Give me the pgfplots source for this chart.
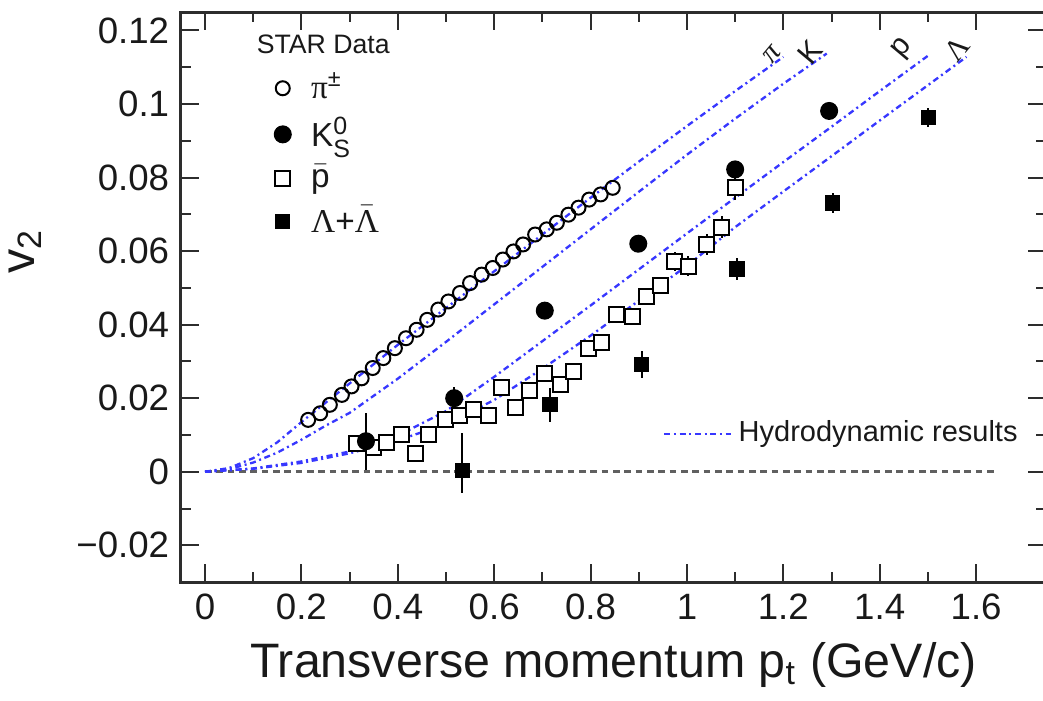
\documentclass[border=0pt]{standalone}
\usepackage{fontspec}
\setmainfont{Liberation Sans}
\newfontfamily\grk{Liberation Serif}
\usepackage{pgfplots}
\pgfplotsset{compat=1.18}
\definecolor{hydro}{RGB}{55,55,255}
\definecolor{framec}{RGB}{45,45,45}
\definecolor{txt}{RGB}{25,25,25}

\pgfplotstableread{
pt v2
0.214 0.0141
0.239 0.0159
0.259 0.0182
0.284 0.0209
0.304 0.0232
0.325 0.0254
0.348 0.0282
0.370 0.0309
0.394 0.0336
0.417 0.0363
0.439 0.0386
0.461 0.0413
0.484 0.0441
0.505 0.0463
0.529 0.0486
0.550 0.0513
0.574 0.0536
0.597 0.0554
0.618 0.0577
0.640 0.0599
0.660 0.0618
0.685 0.0645
0.709 0.0659
0.730 0.0677
0.754 0.0699
0.775 0.0718
0.797 0.0740
0.821 0.0754
0.846 0.0772
}\pions

\pgfplotstableread{
pt v2 err
0.315 0.0077 0.0012
0.349 0.0065 0.0012
0.377 0.0079 0.0012
0.407 0.0100 0.0012
0.436 0.0050 0.0012
0.463 0.0100 0.0012
0.498 0.0143 0.0014
0.528 0.0154 0.0014
0.557 0.0168 0.0014
0.588 0.0152 0.0014
0.615 0.0230 0.0015
0.645 0.0175 0.0015
0.674 0.0221 0.0015
0.705 0.0268 0.0015
0.737 0.0236 0.0016
0.764 0.0272 0.0016
0.795 0.0336 0.0018
0.823 0.0351 0.0018
0.854 0.0427 0.0020
0.887 0.0422 0.0020
0.916 0.0477 0.0022
0.945 0.0506 0.0024
0.975 0.0572 0.0026
1.003 0.0559 0.0028
1.041 0.0618 0.0028
1.072 0.0665 0.0030
1.100 0.0772 0.0032
}\pbar

\pgfplotstableread{
pt v2 err
0.334 0.0083 0.0077
0.517 0.0200 0.0030
0.705 0.0438 0.0010
0.899 0.0620 0.0010
1.100 0.0822 0.0015
1.295 0.0981 0.0015
}\kaons

\pgfplotstableread{
pt v2
0.000 0.0000
0.050 0.0010
0.100 0.0037
0.150 0.0080
0.200 0.0135
0.300 0.0240
0.400 0.0345
0.500 0.0445
0.600 0.0545
0.700 0.0645
0.800 0.0745
0.900 0.0843
1.000 0.0940
1.100 0.1035
1.200 0.1128
}\hpi

\pgfplotstableread{
pt v2
0.000 0.0000
0.050 0.0007
0.100 0.0025
0.150 0.0052
0.200 0.0087
0.250 0.0125
0.300 0.0160
0.400 0.0253
0.500 0.0353
0.600 0.0455
0.700 0.0557
0.800 0.0659
0.900 0.0761
1.000 0.0862
1.100 0.0960
1.200 0.1055
1.290 0.1137
}\hk

\pgfplotstableread{
pt v2
0.000 0.0000
0.100 0.0009
0.200 0.0028
0.300 0.0055
0.400 0.0098
0.500 0.0165
0.600 0.0258
0.700 0.0355
0.800 0.0452
0.900 0.0550
1.000 0.0648
1.100 0.0745
1.200 0.0842
1.300 0.0938
1.400 0.1035
1.500 0.1131
}\hp

\pgfplotstableread{
pt v2
0.000 0.0000
0.100 0.0008
0.200 0.0024
0.300 0.0050
0.400 0.0085
0.500 0.0130
0.600 0.0195
0.700 0.0280
0.800 0.0370
0.900 0.0465
1.000 0.0560
1.100 0.0665
1.200 0.0762
1.300 0.0858
1.400 0.0955
1.500 0.1051
1.580 0.1128
}\hlam

\begin{document}
\begin{tikzpicture}
\pgfplotsset{
  common/.style={
    at={(0pt,0pt)}, anchor=south west,
    scale only axis, width=259.5pt, height=171pt,
    xmin=-0.05, xmax=1.745, ymin=-0.03, ymax=0.125,
  },
  hydrostyle/.style={hydro, line width=0.7pt, dash pattern=on 1.8pt off 1.1pt on 0.6pt off 1.1pt},
  pist/.style={only marks, mark=o, mark size=2.1pt, mark options={black, line width=0.6pt}},
  kst/.style={only marks, mark=*, mark size=2.5pt, mark options={black, fill=black}},
  pst/.style={only marks, mark=square*, mark size=2.25pt, mark options={draw=black, fill=white, line width=0.6pt}},
  lst/.style={only marks, mark=square*, mark size=2.1pt, mark options={black, fill=black}},
}
% hydrodynamic curves and zero line (hidden axis)
\begin{axis}[common, hide axis,
  legend style={at={(axis description cs:0.545,0.26)}, anchor=west, draw=none, fill=none,
    font=\fontsize{8.7}{10}\selectfont, text=txt},
  legend image code/.code={\draw[#1] (0pt,0pt) -- (20pt,0pt);},
]
\addplot[gray!75!black, line width=0.8pt, dash pattern=on 2pt off 1.4pt, forget plot] coordinates {(0,0) (1.645,0)};
\addplot[hydrostyle] table[x=pt,y=v2] {\hpi};
\addlegendentry{Hydrodynamic results}
\addplot[hydrostyle, forget plot] table[x=pt,y=v2] {\hk};
\addplot[hydrostyle, forget plot] table[x=pt,y=v2] {\hp};
\addplot[hydrostyle, forget plot] table[x=pt,y=v2] {\hlam};
\node[rotate=50, font=\grk\itshape\fontsize{9}{10}\selectfont, text=txt] at (axis cs:1.176,0.1135) {π};
\node[rotate=50, font=\fontsize{9}{10}\selectfont, text=txt] at (axis cs:1.255,0.1141) {K};
\node[rotate=50, font=\fontsize{9}{10}\selectfont, text=txt] at (axis cs:1.448,0.1149) {p};
\node[rotate=50, font=\grk\fontsize{9}{10}\selectfont, text=txt] at (axis cs:1.560,0.1149) {Λ};
\end{axis}
% main axis with data
\begin{axis}[common,
  xtick={0,0.2,0.4,0.6,0.8,1,1.2,1.4,1.6},
  xticklabels={0,0.2,0.4,0.6,0.8,1,1.2,1.4,1.6},
  ytick={-0.02,0,0.02,0.04,0.06,0.08,0.1,0.12},
  yticklabels={−0.02,0,0.02,0.04,0.06,0.08,0.1,0.12},
  minor x tick num=1, minor y tick num=1,
  tick align=inside,
  major tick length=5.5pt, minor tick length=3pt,
  axis line style={draw=framec, line width=0.9pt},
  every tick/.style={draw=framec, line width=0.6pt},
  tick label style={font=\fontsize{11}{13}\selectfont, text=txt},
  xlabel={Transverse momentum p\textsubscript{t} (GeV/c)},
  ylabel={v\textsubscript{2}},
  label style={font=\fontsize{14.5}{16}\selectfont, text=txt},
  ylabel style={at={(axis description cs:-0.18,0.58)}, anchor=center},
  legend style={at={(axis description cs:0.09,0.918)}, anchor=north west, draw=none, fill=none,
    font=\fontsize{10}{12}\selectfont, text=txt, row sep=0pt},
  legend image code/.code={\path[draw=none] (-4pt,0pt) (6.5pt,0pt); \draw[#1] plot coordinates {(0pt,0pt)};},
  legend cell align=left,
  error bars/error bar style={black, line width=0.6pt},
  error bars/error mark=none,
]
\addplot[pist, forget plot] table[x=pt,y=v2] {\pions};
\addplot[pst, forget plot, error bars/.cd, y dir=both, y explicit] table[x=pt,y=v2,y error=err] {\pbar};
\addplot[kst, forget plot, error bars/.cd, y dir=both, y explicit] table[x=pt,y=v2,y error=err] {\kaons};
\addplot[lst, forget plot, error bars/.cd, y dir=both, y explicit] coordinates {
  (0.534,0.0003) += (0,0.0102) -= (0,0.0062)
  (0.716,0.0182) +- (0,0.0047)
  (0.906,0.0291) +- (0,0.0036)
  (1.104,0.0551) +- (0,0.0030)
  (1.302,0.0731) +- (0,0.0027)
  (1.501,0.0963) +- (0,0.0026)
};
\addlegendimage{pist}
\addlegendentry{{\grk π}$^{\mbox{\fontsize{7}{8}\selectfont ±}}$}
\addlegendimage{kst}
\addlegendentry{K$^{\mbox{\fontsize{7.5}{8}\selectfont 0}}_{\mbox{\fontsize{7.5}{8}\selectfont S}}$}
\addlegendimage{pst}
\addlegendentry{$\bar{\mbox{p}}$}
\addlegendimage{lst}
\addlegendentry{{\grk Λ}+$\bar{\mbox{\grk Λ}}$}
\node[anchor=west, font=\fontsize{8}{10}\selectfont, text=txt] at (axis cs:0.083,0.1163) {STAR Data};
\end{axis}
\pgfresetboundingbox
\path (-54.27pt,-35.4pt) rectangle (258.6pt,174.6pt);
\end{tikzpicture}
\end{document}
